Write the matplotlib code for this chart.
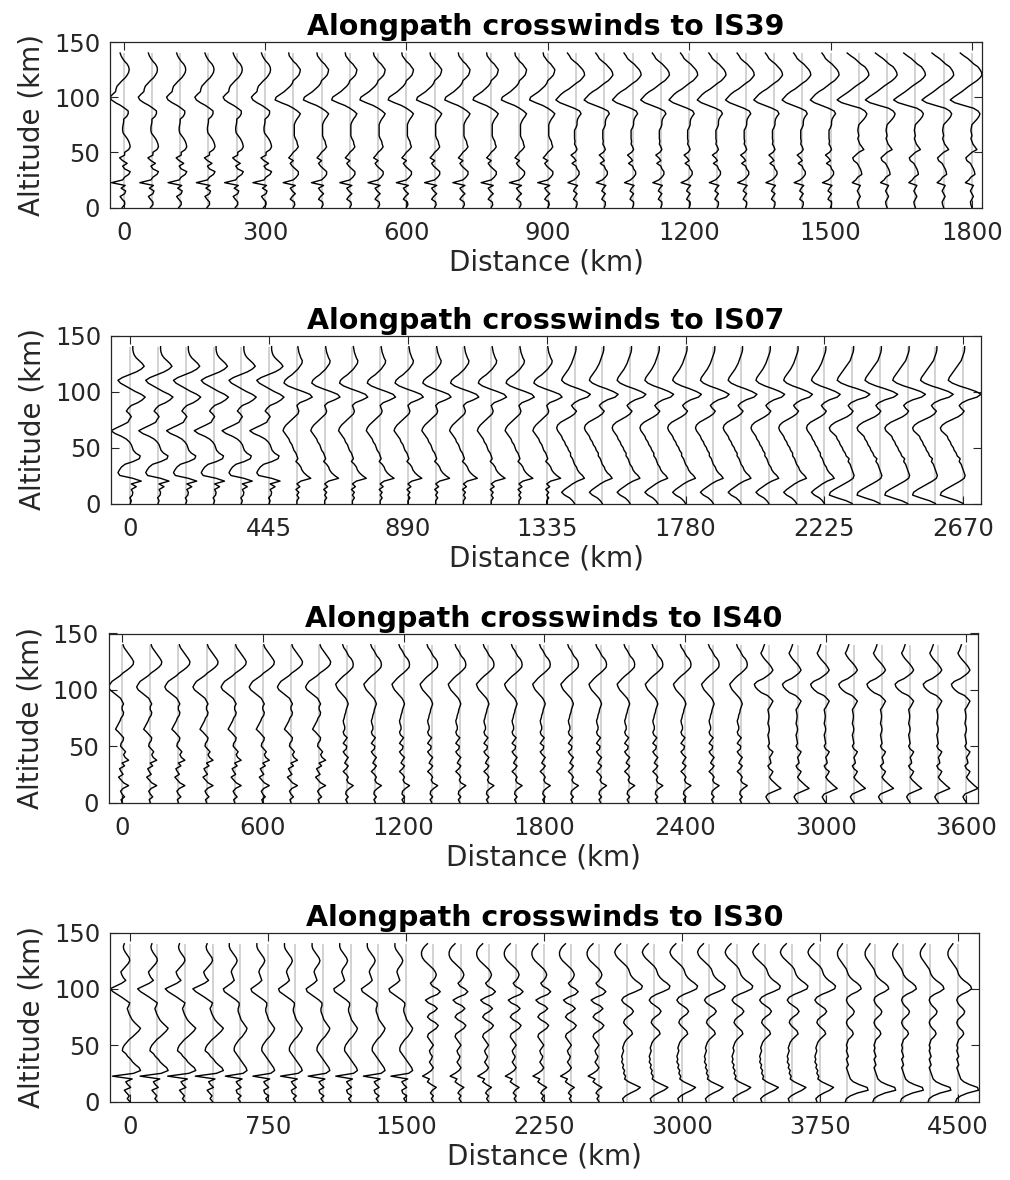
import numpy as np
import matplotlib
matplotlib.use("Agg")
import matplotlib.pyplot as plt

# ---------------- data ----------------
ALT_KM = np.arange(0, 142.5, 2.5)          # altitude levels of every profile (0 .. 140 km)
N_STATIONS = 31                              # profiles drawn along each path
TICK_EVERY = 5                               # a tick label every 5th profile
TITLES = ["Alongpath crosswinds to IS39", "Alongpath crosswinds to IS07",
          "Alongpath crosswinds to IS40", "Alongpath crosswinds to IS30"]
MAX_DIST_KM = [1800, 2670, 3600, 4500]
Y_TICKS = [0, 50, 100, 150]

# crosswind profiles (m/s, bottom -> top on ALT_KM) read at a few stations of each path;
# every other station is drawn with the profile of its nearest listed station
IS39_KEY_STATIONS = [0, 10, 20, 30]
IS39_WIND = [
    [-3, 2, 2, -3, -7, 2, 4, -5, 3, -24, -2, 2, 10, 13, 2, -2, 7, -2, -8, 2, 2, 10, 13, 12, 10, 7, 3, -1, -2, -2,
     -1, 0, 0, 6, 9, 9, 2, -6, -16, -24, -27, -22, -16, -15, -13, -8, -3, 3, 7, 10, 11, 10, 7, 2, -2, -5, -7],
    [0, 3, 2, -6, -2, 4, -2, -6, 4, -20, 0, 6, 10, 10, 4, -2, -6, 0, -9, -4, 0, 6, 10, 8, 7, 4, 2, 2, 2, 2,
     2, 4, 7, 11, 14, 8, 0, -10, -24, -36, -34, -26, -18, -12, -6, -2, 0, 6, 11, 13, 14, 10, 6, 0, -4, -8, -9],
    [0, 2, 2, -5, -2, 2, -5, -2, 3, -16, -4, 2, 6, 6, 2, 0, -8, 0, -4, -10, -2, 2, 0, -3, -2, -3, -3, -3, -3, 0,
     2, 2, 3, 6, 10, 7, -4, -18, -32, -40, -35, -30, -23, -14, -7, 0, 8, 13, 17, 16, 13, 8, 3, -4, -10, -13, -17],
    [0, -2, -3, 0, 3, 0, -3, 0, 3, -13, -6, -2, 6, 5, 3, 0, -3, -10, -12, -6, 0, 10, 6, 2, 0, -2, 0, -1, -2, -1,
     0, 5, 10, 14, 16, 12, 3, -16, -34, -43, -36, -28, -20, -13, -6, 2, 10, 16, 20, 19, 16, 12, 4, -2, -8, -16, -23],
]
IS07_KEY_STATIONS = [0, 10, 20, 30]
IS07_WIND = [
    [0, 2, -1, 4, 5, 2, 12, 2, 22, 5, -21, -25, -22, -18, -11, 6, 18, 20, 11, 6, 4, 2, -2, -8, -18, -31, -39, -28,
     -16, -5, -2, 2, -2, -8, -4, 2, 15, 24, 30, 22, 10, 0, -10, -20, -25, -16, -2, 12, 22, 28, 24, 18, 12, 8, 6, 5, 5],
    [0, 0, 4, 0, 4, -2, 6, 0, 8, 28, 20, 14, 10, 8, 4, -2, 2, 0, -2, -6, -8, -10, -14, -16, -20, -24, -28, -26,
     -22, -16, -10, -4, 2, 4, 2, 0, 6, 20, 31, 26, 12, -4, -18, -26, -24, -18, -10, -4, 2, 6, 10, 11, 8, 6, 4, 3, 2],
    [0, -4, -10, -20, -26, -20, -12, -4, 6, 20, 16, 10, 6, 4, 0, -2, -4, -8, -8, -12, -14, -18, -20, -24, -26,
     -30, -34, -36, -34, -28, -18, -8, 0, 4, -2, -6, 0, 10, 26, 32, 22, 8, -8, -20, -26, -24, -20, -16, -12, -9,
     -6, -4, -2, 0, 2, 3, 3],
    [0, -12, -30, -46, -44, -36, -26, -16, -6, 2, 4, 2, 0, -2, -4, -8, -6, -12, -14, -18, -20, -24, -26, -30, -32,
     -38, -44, -46, -42, -34, -22, -10, -2, 2, -4, -8, -2, 10, 28, 36, 26, 10, -8, -22, -30, -28, -24, -20, -16,
     -12, -8, -4, -2, 0, 2, 3, 3],
]
IS40_KEY_STATIONS = [0, 15, 30]
IS40_WIND = [
    [0, -2, 5, 0, -3, 2, 13, 3, -2, -7, 2, -2, -5, 5, 0, 13, 6, 3, 7, 2, -3, -2, 2, 3, -2, -7, -13, -10, -7, -4,
     -2, 2, 3, 0, 0, 3, 0, -3, -10, -17, -24, -27, -24, -20, -12, -4, 2, 10, 17, 22, 23, 20, 16, 12, 8, 4, 2],
    [0, -3, 2, -3, -2, 4, 12, 2, -1, 2, -2, -8, -2, 2, -5, -2, 2, -4, -8, -2, -1, -8, -4, 0, -6, -8, -5, -5, -7, -8,
     -6, -5, -3, -2, 0, 2, 0, -3, -8, -13, -18, -21, -23, -18, -13, -7, 0, 6, 11, 12, 11, 8, 3, 0, -3, -7, -9],
    [0, -4, -7, -3, 10, 23, 16, 10, 4, 0, 4, 7, 0, -3, 3, 2, 0, 4, 7, 0, -3, 0, -1, -2, -3, -1, 0, -1, -3, -2,
     -1, -1, -2, -3, 1, 4, 7, 2, -4, -16, -23, -28, -30, -24, -12, -4, 3, 7, 4, 0, -5, -10, -14, -17, -14, -12, -10],
]
IS30_KEY_STATIONS = [0, 7, 14, 21, 30]
IS30_WIND = [
    [0, -5, -1, -6, -11, 2, -4, -8, 5, -35, 8, 22, 19, 12, 6, 2, -4, -8, -15, -14, -11, -6, -1, 6, 12, 18, 22, 16,
     10, 5, 2, -1, -3, -5, -2, 0, -8, -16, -25, -34, -40, -28, -16, -8, -13, -16, -18, -13, -8, -3, 0, -1, -5, -9,
     -12, -13, -11],
    [0, -4, 2, -6, -8, 2, -4, -8, 4, -30, 6, 14, 12, 8, 4, 0, -4, -8, -12, -12, -10, -6, -2, 4, 8, 12, 14, 10, 6, 2,
     0, -2, -4, -4, -2, -2, -8, -16, -24, -32, -34, -26, -18, -12, -14, -16, -18, -16, -12, -8, -6, -8, -12, -16,
     -20, -22, -22],
    [0, -4, 0, -6, -2, 6, -4, -12, -8, -22, -12, -4, 0, -4, -8, -4, -2, -6, -8, -4, 0, -4, -8, -12, -10, -2, 6, 10,
     4, -6, -12, -8, 2, 8, 2, -10, -16, -6, 8, 14, 8, -2, -6, 0, 4, 6, 4, 0, -6, -12, -18, -22, -24, -24, -22,
     -18, -12],
    [-6, -8, -2, 8, 20, 28, 16, 4, -4, -2, -6, -4, -8, -6, -10, -8, -10, -8, -6, -8, -6, -4, 0, 6, 12, 10, 4, -2,
     -6, -4, 2, 10, 14, 10, 2, -6, -10, -6, 4, 18, 30, 32, 26, 18, 12, 8, 6, 4, 0, -6, -12, -18, -22, -24, -22,
     -18, -12],
    [-4, -2, 6, 20, 42, 40, 24, 12, 6, 4, 2, 0, -2, 2, 0, -2, 2, 0, -2, 0, -2, 0, 2, 8, 12, 10, 4, 0, -2, 0, 6, 12,
     14, 10, 4, 0, -2, 0, 8, 20, 28, 26, 20, 12, 6, 2, 0, -2, -6, -10, -14, -18, -20, -20, -18, -14, -10],
]
KEY_STATIONS = [IS39_KEY_STATIONS, IS07_KEY_STATIONS, IS40_KEY_STATIONS, IS30_KEY_STATIONS]
WINDS = [IS39_WIND, IS07_WIND, IS40_WIND, IS30_WIND]
WIND_PER_SPACING = 56.0   # m/s of crosswind drawn as one station spacing

# ---------------- style / layout ----------------
plt.rcParams['font.family'] = ['DejaVu Sans']
AX_COLOR = '#262626'
FIG_W, FIG_H = 1010, 1180
AX_RECTS_PX = [(110, 42, 982, 207.5), (111, 335.5, 981, 503.5),
               (108.5, 633.5, 978, 802.5), (110, 932.5, 978.5, 1101.5)]

fig = plt.figure(figsize=(FIG_W / 100, FIG_H / 100), dpi=100)

for i in range(4):
    l, t, r, b = AX_RECTS_PX[i]
    ax = fig.add_axes([l / FIG_W, 1 - b / FIG_H, (r - l) / FIG_W, (b - t) / FIG_H])
    stations = np.linspace(0, MAX_DIST_KM[i], N_STATIONS)
    spacing = stations[1] - stations[0]
    scale = spacing / WIND_PER_SPACING
    keys = np.array(KEY_STATIONS[i])
    winds = [np.array(w, dtype=float) for w in WINDS[i]]

    ax.vlines(stations, ALT_KM[0], ALT_KM[-1], color='#cfcfcf', lw=1.3, zorder=1)
    xmin, xmax = np.inf, -np.inf
    for s, x0 in enumerate(stations):
        k = int(np.argmin(np.abs(keys - s)))
        x = x0 + winds[k] * scale
        ax.plot(x, ALT_KM, color='black', lw=1.0, zorder=2)
        xmin, xmax = min(xmin, x.min()), max(xmax, x.max())

    ax.set_xlim(xmin, xmax)
    ax.set_ylim(0, 150)
    tick_pos = stations[::TICK_EVERY]
    ax.set_xticks(tick_pos)
    ax.set_xticklabels([f"{v:.0f}" for v in tick_pos])
    ax.set_yticks(Y_TICKS)
    ax.tick_params(direction='in', top=True, right=True, length=6, width=0.8,
                   colors=AX_COLOR, labelsize=17.5)
    ax.tick_params(axis='x', pad=10)
    ax.tick_params(axis='y', pad=7)
    for sp in ax.spines.values():
        sp.set_color(AX_COLOR)
        sp.set_linewidth(0.9)
    ax.set_xlabel("Distance (km)", fontsize=20, color=AX_COLOR, labelpad=2)
    ax.set_ylabel("Altitude (km)", fontsize=20, color=AX_COLOR, labelpad=6)
    ax.set_title(TITLES[i], fontsize=20.5, fontweight='bold', color='black', pad=5)

fig.savefig("out.png", dpi=100)
